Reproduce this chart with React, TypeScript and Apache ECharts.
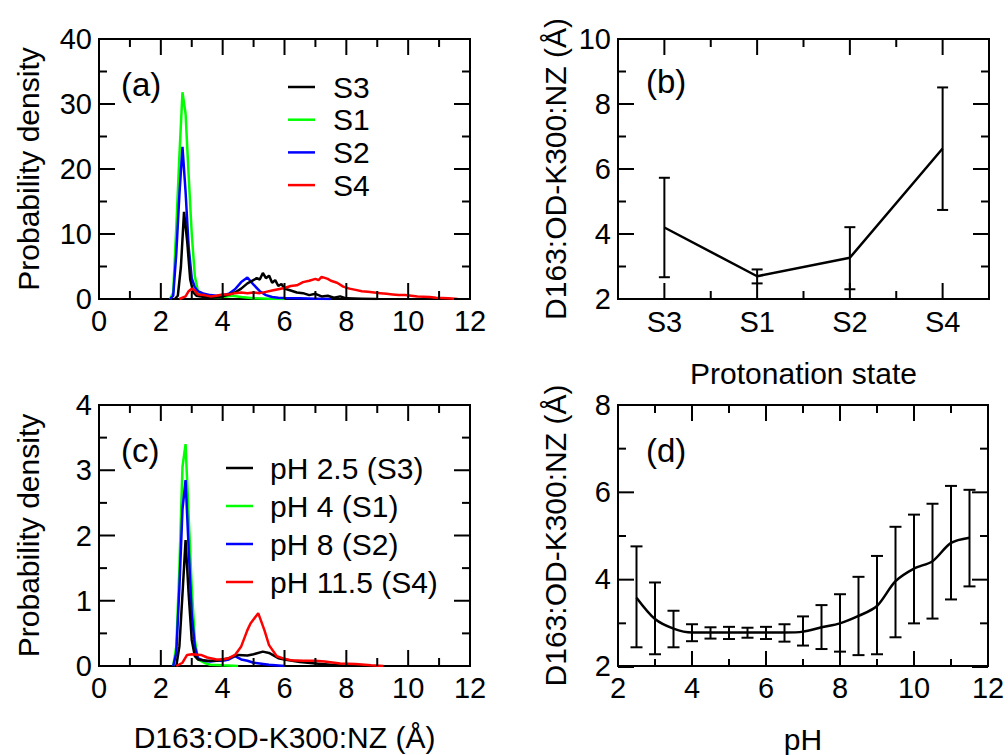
import React, { useEffect, useRef } from 'react';
import * as echarts from 'echarts';

const FONT = '"Liberation Sans", Arial, Helvetica, sans-serif';

// ---------- Panel (a): probability density per protonation state ----------
const aS1: number[][] = [[2.3,0],[2.4,1],[2.5,11],[2.6,22],[2.7,31.8],[2.8,28.5],[2.9,19],[3.0,10],[3.1,3.5],[3.2,1.2],[3.3,0.6],[3.5,0.4],[3.8,0.3],[4.0,0.3],[4.3,0.5],[4.6,0.3],[5.0,0.1],[5.5,0.05],[6.0,0]];
const aS2: number[][] = [[2.3,0],[2.4,0.5],[2.5,7],[2.6,16],[2.7,23.4],[2.8,16.5],[2.9,8],[3.0,3.2],[3.1,1.8],[3.2,1.2],[3.4,0.8],[3.6,0.6],[3.8,0.5],[4.0,0.6],[4.2,0.8],[4.4,1.5],[4.6,2.6],[4.8,3.3],[5.0,2.2],[5.2,1.2],[5.4,0.6],[5.6,0.3],[5.8,0.2],[6.0,0.15],[6.5,0.1],[7.0,0.05],[7.5,0]];
const aS3: number[][] = [[2.45,0],[2.55,0.5],[2.65,5],[2.75,13.4],[2.85,9],[2.95,3],[3.05,1],[3.15,0.5],[3.4,0.3],[3.8,0.3],[4.0,0.4],[4.2,0.7],[4.4,1.0],[4.6,1.6],[4.8,2.4],[4.95,2.8],[5.1,3.2],[5.2,3.0],[5.3,4.0],[5.4,3.2],[5.5,3.6],[5.6,2.5],[5.7,2.9],[5.8,2.0],[5.9,2.3],[6.0,1.6],[6.2,1.3],[6.4,1.0],[6.6,0.9],[6.8,0.6],[7.0,0.8],[7.2,0.4],[7.4,0.5],[7.6,0.2],[7.8,0.4],[8.0,0.1],[8.5,0.05],[9.0,0]];
const aS4: number[][] = [[2.6,0],[2.8,0.4],[2.9,1.2],[3.0,1.6],[3.1,1.3],[3.2,0.7],[3.4,0.6],[3.6,0.4],[3.8,0.5],[4.0,0.7],[4.2,0.7],[4.4,0.9],[4.6,1.0],[4.8,0.9],[5.0,1.0],[5.2,0.9],[5.4,1.1],[5.6,1.3],[5.8,1.5],[6.0,1.7],[6.2,2.0],[6.4,2.1],[6.6,2.6],[6.8,2.8],[7.0,3.1],[7.1,2.9],[7.2,3.4],[7.4,3.1],[7.5,2.8],[7.7,2.5],[7.9,1.9],[8.1,1.6],[8.3,1.4],[8.5,1.2],[8.7,1.1],[8.9,1.0],[9.1,0.9],[9.3,0.8],[9.5,0.7],[9.7,0.6],[9.9,0.6],[10.1,0.5],[10.3,0.4],[10.5,0.35],[10.7,0.3],[10.9,0.2],[11.1,0.15],[11.3,0.1],[11.6,0]];
const aTickXMajor = [0, 2, 4, 6, 8, 10, 12];
const aTickXMinor = [1, 3, 5, 7, 9, 11];
const aTickYMajor = [0, 10, 20, 30, 40];
const aTickYMinor = [5, 15, 25, 35];

// ---------- Panel (b): mean distance per protonation state ----------
const bStates = ['S3', 'S1', 'S2', 'S4'];
const bMean = [4.2, 2.7, 3.27, 6.63];
const bLow = [2.67, 2.48, 2.3, 4.74];
const bHigh = [5.73, 2.91, 4.21, 8.51];
const bTickYMajor = [2, 4, 6, 8, 10];
const bTickYMinor = [3, 5, 7, 9];

// ---------- Panel (c): probability density per pH ----------
const cPH25: number[][] = [[2.5,0],[2.6,0.3],[2.7,1.1],[2.8,1.93],[2.9,1.1],[3.0,0.4],[3.1,0.15],[3.2,0.1],[3.5,0.08],[3.8,0.08],[4.0,0.1],[4.2,0.12],[4.5,0.17],[4.8,0.16],[5.0,0.18],[5.3,0.22],[5.5,0.2],[5.8,0.12],[6.0,0.1],[6.5,0.06],[7.0,0.04],[7.5,0.02],[8.0,0]];
const cPH4: number[][] = [[2.4,0],[2.5,0.3],[2.6,1.5],[2.7,3.05],[2.8,3.4],[2.9,2.3],[3.0,1.2],[3.1,0.4],[3.2,0.1],[3.4,0.05],[3.6,0.02],[4.0,0.01],[4.5,0]];
const cPH8: number[][] = [[2.4,0],[2.5,0.2],[2.6,1.2],[2.7,2.4],[2.8,2.85],[2.9,1.8],[3.0,0.8],[3.1,0.3],[3.2,0.12],[3.4,0.08],[3.6,0.07],[3.8,0.08],[4.0,0.08],[4.2,0.1],[4.4,0.15],[4.6,0.1],[4.8,0.08],[5.0,0.05],[5.5,0.02],[6.0,0]];
const cPH115: number[][] = [[2.5,0],[2.7,0.05],[2.85,0.17],[3.0,0.18],[3.3,0.17],[3.5,0.13],[3.8,0.1],[4.0,0.1],[4.2,0.12],[4.4,0.17],[4.6,0.3],[4.8,0.55],[4.9,0.65],[5.15,0.81],[5.35,0.55],[5.5,0.32],[5.75,0.15],[6.0,0.11],[6.2,0.09],[6.6,0.08],[7.0,0.08],[7.3,0.07],[7.8,0.04],[8.3,0.03],[8.8,0.01],[9.2,0]];
const cTickYMajor = [0, 1, 2, 3, 4];
const cTickYMinor = [0.5, 1.5, 2.5, 3.5];

// ---------- Panel (d): mean distance vs pH ----------
const dPH = [2.5, 3, 3.5, 4, 4.5, 5, 5.5, 6, 6.5, 7, 7.5, 8, 8.5, 9, 9.5, 10, 10.5, 11, 11.5];
const dMean = [3.57, 3.08, 2.86, 2.77, 2.77, 2.77, 2.77, 2.77, 2.77, 2.79, 2.89, 2.98, 3.15, 3.38, 3.95, 4.24, 4.41, 4.83, 4.95];
const dLow = [2.43, 2.27, 2.43, 2.57, 2.63, 2.62, 2.65, 2.62, 2.56, 2.47, 2.39, 2.33, 2.25, 2.27, 2.66, 2.98, 3.09, 3.53, 3.83];
const dHigh = [4.75, 3.92, 3.27, 2.96, 2.89, 2.9, 2.88, 2.9, 2.96, 3.14, 3.4, 3.65, 4.05, 4.53, 5.2, 5.48, 5.73, 6.14, 6.05];
const dTickXMajor = [2, 4, 6, 8, 10, 12];
const dTickXMinor = [3, 5, 7, 9, 11];
const dTickYMajor = [2, 4, 6, 8];
const dTickYMinor = [3, 5, 7];

const xLabel = 'D163:OD-K300:NZ (Å)';
const yDensity = 'Probability density';

const LABEL = { color: '#000', fontSize: 29, fontFamily: FONT };
const NAME = { color: '#000', fontSize: 30, fontFamily: FONT };
const MAJOR = 16;
const MINOR = 8;

// Grid rectangles (layout) and axis ranges
const GRIDS = [
  { left: 99, top: 39, width: 371, height: 260 },
  { left: 618, top: 39, width: 371, height: 260 },
  { left: 99, top: 405, width: 371, height: 261 },
  { left: 618, top: 405, width: 370, height: 262 },
];

function valAxis(gridIndex: number, min: number, max: number, interval: number, extra: any = {}) {
  return {
    type: 'value', gridIndex, min, max, interval,
    axisLine: { show: false, onZero: false },
    splitLine: { show: false },
    axisTick: { show: false },
    axisLabel: { show: true, margin: 7, ...LABEL },
    ...extra,
  };
}

// Inward ticks on all four sides of a grid, using the same linear scale as the axis.
function tickLines(g: number, xr: number[] | null, yr: number[], xMajPx: number[], xMinPx: number[], yMaj: number[], yMin: number[]) {
  const r = GRIDS[g];
  const left = r.left, right = r.left + r.width, top = r.top, bottom = r.top + r.height;
  const yPx = (v: number) => bottom - ((v - yr[0]) / (yr[1] - yr[0])) * r.height;
  const st = { stroke: '#000', lineWidth: 2 };
  const out: any[] = [];
  const vx = (x: number, len: number) => {
    out.push({ type: 'line', z: 50, shape: { x1: x, y1: bottom, x2: x, y2: bottom - len }, style: st });
    out.push({ type: 'line', z: 50, shape: { x1: x, y1: top, x2: x, y2: top + len }, style: st });
  };
  const hy = (y: number, len: number) => {
    out.push({ type: 'line', z: 50, shape: { x1: left, y1: y, x2: left + len, y2: y }, style: st });
    out.push({ type: 'line', z: 50, shape: { x1: right, y1: y, x2: right - len, y2: y }, style: st });
  };
  xMajPx.forEach((x) => vx(x, MAJOR));
  xMinPx.forEach((x) => vx(x, MINOR));
  yMaj.forEach((v) => hy(yPx(v), MAJOR));
  yMin.forEach((v) => hy(yPx(v), MINOR));
  return out;
}

function xPx(g: number, xr: number[], vals: number[]) {
  const r = GRIDS[g];
  return vals.map((v) => r.left + ((v - xr[0]) / (xr[1] - xr[0])) * r.width);
}

function errRender(capHalf: number) {
  return (params: any, api: any) => {
    const x = api.value(0);
    const pLo = api.coord([x, api.value(1)]);
    const pHi = api.coord([x, api.value(2)]);
    const style = { stroke: '#000', lineWidth: 2 };
    return {
      type: 'group',
      children: [
        { type: 'line', shape: { x1: pLo[0], y1: pLo[1], x2: pHi[0], y2: pHi[1] }, style },
        { type: 'line', shape: { x1: pLo[0] - capHalf, y1: pLo[1], x2: pLo[0] + capHalf, y2: pLo[1] }, style },
        { type: 'line', shape: { x1: pHi[0] - capHalf, y1: pHi[1], x2: pHi[0] + capHalf, y2: pHi[1] }, style },
      ],
    };
  };
}

function lineSeries(name: string, data: number[][], color: string, xi: number, yi: number) {
  return {
    type: 'line', name, data, xAxisIndex: xi, yAxisIndex: yi,
    showSymbol: false, symbol: 'none',
    lineStyle: { color, width: 2.5 },
    itemStyle: { color },
  };
}

function legendGraphics(items: { label: string; color: string }[], x1: number, x2: number, tx: number, y0: number, gap: number, fs: number) {
  const out: any[] = [];
  items.forEach((it, i) => {
    const y = y0 + i * gap;
    out.push({ type: 'line', shape: { x1, y1: y, x2, y2: y }, style: { stroke: it.color, lineWidth: 2.5 } });
    out.push({ type: 'text', x: tx, y, style: { text: it.label, fill: '#000', fontSize: fs, fontFamily: FONT, align: 'left', verticalAlign: 'middle' } });
  });
  return out;
}

function panelLabel(text: string, x: number, y: number) {
  return { type: 'text', x, y, style: { text, fill: '#000', fontSize: 33, fontFamily: FONT, align: 'left', verticalAlign: 'middle' } };
}

export default function App() {
  const ref = useRef<HTMLDivElement>(null);
  useEffect(() => {
    if (!ref.current) return;
    const chart = echarts.init(ref.current, null, { renderer: 'svg' });
    const gridStyle = { show: true, borderColor: '#000', borderWidth: 2, backgroundColor: 'transparent' };

    const bRect = GRIDS[1];
    const band = bRect.width / bStates.length;
    const bCentres = bStates.map((_, i) => bRect.left + (i + 0.5) * band);
    const bBounds = [0, 1, 2, 3, 4].map((i) => bRect.left + i * band);

    const graphic: any[] = [
      panelLabel('(a)', 121, 84),
      panelLabel('(b)', 646, 81),
      panelLabel('(c)', 121, 450),
      panelLabel('(d)', 646, 450),
      ...legendGraphics([
        { label: 'S3', color: '#000000' },
        { label: 'S1', color: '#00ff00' },
        { label: 'S2', color: '#0000ff' },
        { label: 'S4', color: '#ff0000' },
      ], 288, 315, 333, 87, 32.7, 30),
      ...legendGraphics([
        { label: 'pH 2.5 (S3)', color: '#000000' },
        { label: 'pH 4 (S1)', color: '#00ff00' },
        { label: 'pH 8 (S2)', color: '#0000ff' },
        { label: 'pH 11.5 (S4)', color: '#ff0000' },
      ], 226, 253, 270, 468, 38, 30),
      ...tickLines(0, [0, 12], [0, 40], xPx(0, [0, 12], aTickXMajor), xPx(0, [0, 12], aTickXMinor), aTickYMajor, aTickYMinor),
      ...tickLines(1, null, [2, 10], bCentres, bBounds, bTickYMajor, bTickYMinor),
      ...tickLines(2, [0, 12], [0, 4], xPx(2, [0, 12], aTickXMajor), xPx(2, [0, 12], aTickXMinor), cTickYMajor, cTickYMinor),
      ...tickLines(3, [2, 12], [2, 8], xPx(3, [2, 12], dTickXMajor), xPx(3, [2, 12], dTickXMinor), dTickYMajor, dTickYMinor),
    ];

    const option: any = {
      animation: false,
      backgroundColor: '#fff',
      textStyle: { fontFamily: FONT },
      grid: GRIDS.map((g) => ({ ...g, ...gridStyle })),
      xAxis: [
        valAxis(0, 0, 12, 2),
        {
          type: 'category', gridIndex: 1, data: bStates, boundaryGap: true,
          axisLine: { show: false, onZero: false }, splitLine: { show: false }, axisTick: { show: false },
          axisLabel: { show: true, margin: 8, ...LABEL },
          name: 'Protonation state', nameLocation: 'middle', nameGap: 59, nameTextStyle: NAME,
        },
        valAxis(2, 0, 12, 2, { name: xLabel, nameLocation: 'middle', nameGap: 56, nameTextStyle: NAME }),
        valAxis(3, 2, 12, 2, { name: 'pH', nameLocation: 'middle', nameGap: 58, nameTextStyle: NAME }),
      ],
      yAxis: [
        valAxis(0, 0, 40, 10, { name: yDensity, nameLocation: 'middle', nameRotate: 90, nameGap: 56, nameTextStyle: NAME }),
        valAxis(1, 2, 10, 2, { name: xLabel, nameLocation: 'middle', nameRotate: 90, nameGap: 48, nameTextStyle: NAME }),
        valAxis(2, 0, 4, 1, { name: yDensity, nameLocation: 'middle', nameRotate: 90, nameGap: 56, nameTextStyle: NAME }),
        valAxis(3, 2, 8, 2, { name: xLabel, nameLocation: 'middle', nameRotate: 90, nameGap: 48, nameTextStyle: NAME }),
      ],
      series: [
        lineSeries('S1', aS1, '#00ff00', 0, 0),
        lineSeries('S2', aS2, '#0000ff', 0, 0),
        lineSeries('S3', aS3, '#000000', 0, 0),
        lineSeries('S4', aS4, '#ff0000', 0, 0),
        {
          type: 'line', name: 'mean', data: bMean, xAxisIndex: 1, yAxisIndex: 1,
          showSymbol: false, symbol: 'none', lineStyle: { color: '#000', width: 2.5 },
        },
        {
          type: 'custom', name: 'err-b', xAxisIndex: 1, yAxisIndex: 1,
          data: bStates.map((_, i) => [i, bLow[i], bHigh[i]]),
          renderItem: errRender(5.5),
        },
        lineSeries('pH 4 (S1)', cPH4, '#00ff00', 2, 2),
        lineSeries('pH 8 (S2)', cPH8, '#0000ff', 2, 2),
        lineSeries('pH 2.5 (S3)', cPH25, '#000000', 2, 2),
        lineSeries('pH 11.5 (S4)', cPH115, '#ff0000', 2, 2),
        {
          type: 'line', name: 'mean-pH', data: dPH.map((p, i) => [p, dMean[i]]), xAxisIndex: 3, yAxisIndex: 3,
          smooth: 0.3, showSymbol: false, symbol: 'none', lineStyle: { color: '#000', width: 2.5 },
        },
        {
          type: 'custom', name: 'err-d', xAxisIndex: 3, yAxisIndex: 3,
          data: dPH.map((p, i) => [p, dLow[i], dHigh[i]]),
          renderItem: errRender(6),
        },
      ],
      graphic,
    };
    chart.setOption(option);
    return () => chart.dispose();
  }, []);
  return <div ref={ref} style={{ position: 'fixed', left: 0, top: 0, width: 1008, height: 755, background: '#fff' }} />;
}
